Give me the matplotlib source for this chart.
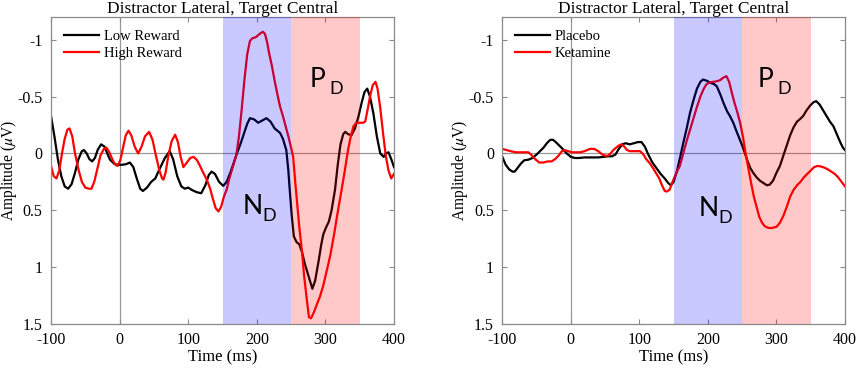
import matplotlib
matplotlib.use("Agg")
import matplotlib.pyplot as plt

plt.rcParams["font.family"] = ["Liberation Serif", "DejaVu Serif"]
plt.rcParams["mathtext.fontset"] = "stix"
plt.rcParams["axes.unicode_minus"] = False

TITULO = "Distractor Lateral, Target Central"

# painel esquerdo: recompensa
t_low = [-100, -95, -90, -85, -80, -75, -70, -65, -60, -55, -52, -48, -44, -40, -36, -32, -27, -22,
         -18, -14, -8, -3, 3, 9, 15, 20, 25, 30, 34, 40, 46, 52, 58, 66, 73, 78, 84, 90, 95, 100,
         105, 112, 119, 125, 130, 134, 139, 145, 151, 156, 162, 167, 171, 176, 181, 186, 190, 196,
         202, 208, 214, 220, 226, 234, 238, 243, 246, 248, 251, 254, 258, 262, 266, 270, 274, 278,
         281, 285, 290, 294, 297, 301, 305, 309, 314, 318, 322, 326, 329, 333, 338, 343, 348, 353,
         357, 361, 365, 370, 375, 380, 385, 388, 392, 396, 400]
v_low = [-0.33, -0.15, 0.05, 0.20, 0.29, 0.31, 0.27, 0.17, 0.05, -0.02, -0.03, 0.00, 0.05, 0.07,
         0.04, -0.03, -0.08, -0.06, 0.00, 0.055, 0.09, 0.10, 0.10, 0.095, 0.08, 0.12, 0.22, 0.31,
         0.33, 0.30, 0.25, 0.22, 0.14, 0.04, -0.02, 0.05, 0.20, 0.29, 0.31, 0.30, 0.32, 0.34, 0.35,
         0.28, 0.19, 0.16, 0.18, 0.25, 0.285, 0.25, 0.16, 0.07, 0.00, -0.08, -0.17, -0.26, -0.31,
         -0.30, -0.27, -0.29, -0.31, -0.28, -0.22, -0.18, -0.13, -0.03, 0.15, 0.32, 0.55, 0.73,
         0.78, 0.80, 0.87, 0.97, 1.05, 1.13, 1.19, 1.12, 0.95, 0.80, 0.71, 0.65, 0.60, 0.50, 0.32,
         0.10, -0.08, -0.17, -0.19, -0.17, -0.16, -0.22, -0.32, -0.45, -0.54, -0.57, -0.50, -0.35,
         -0.15, 0.00, 0.03, 0.00, -0.01, 0.05, 0.12]

t_high = [-100, -96, -92, -88, -84, -80, -76, -73, -69, -65, -60, -55, -50, -45, -41, -37, -33, -28,
          -23, -19, -15, -10, -6, -3, 1, 5, 9, 13, 17, 22, 27, 32, 37, 43, 48, 53, 58, 62, 64, 67,
          71, 76, 81, 85, 89, 93, 98, 103, 108, 113, 118, 122, 127, 132, 136, 140, 144, 148, 152,
          156, 160, 165, 170, 174, 178, 182, 186, 190, 194, 198, 202, 206, 209, 212, 215, 218, 222,
          226, 230, 234, 238, 242, 246, 250, 253, 256, 259, 262, 266, 269, 273, 276, 279, 283, 288,
          292, 297, 302, 307, 313, 317, 321, 327, 333, 337, 341, 345, 350, 355, 358, 362, 365, 369,
          373, 376, 380, 384, 388, 392, 396, 400]
v_high = [0.11, 0.20, 0.22, 0.15, 0.00, -0.13, -0.21, -0.22, -0.15, 0.00, 0.14, 0.25, 0.30, 0.31,
          0.31, 0.25, 0.15, 0.02, -0.04, -0.05, -0.01, 0.06, 0.10, 0.11, 0.06, -0.05, -0.16, -0.20,
          -0.16, -0.06, 0.00, -0.06, -0.15, -0.19, -0.12, 0.02, 0.15, 0.22, 0.23, 0.17, 0.02, -0.11,
          -0.165, -0.10, 0.03, 0.12, 0.08, 0.04, 0.03, 0.06, 0.12, 0.17, 0.23, 0.31, 0.40, 0.48,
          0.51, 0.47, 0.38, 0.32, 0.22, 0.12, 0.02, -0.15, -0.39, -0.65, -0.87, -0.99, -1.015,
          -1.02, -1.04, -1.06, -1.07, -1.05, -0.98, -0.88, -0.77, -0.64, -0.52, -0.41, -0.33, -0.24,
          -0.15, -0.05, 0.03, 0.25, 0.45, 0.65, 0.87, 1.08, 1.29, 1.44, 1.45, 1.40, 1.32, 1.26,
          1.16, 1.03, 0.90, 0.70, 0.55, 0.41, 0.20, -0.03, -0.15, -0.24, -0.27, -0.27, -0.27, -0.28,
          -0.40, -0.50, -0.60, -0.63, -0.57, -0.40, -0.18, 0.02, 0.15, 0.22, 0.18]

# painel direito: droga
t_plac = [-100, -95, -90, -85, -82, -78, -73, -68, -62, -56, -50, -45, -40, -35, -30, -26, -22, -17,
          -12, -6, 0, 6, 12, 20, 30, 40, 48, 55, 60, 65, 70, 75, 80, 86, 92, 98, 103, 108, 113, 119,
          125, 131, 137, 142, 146, 150, 155, 160, 164, 169, 174, 179, 184, 189, 193, 198, 204, 209,
          213, 218, 223, 228, 232, 237, 242, 246, 250, 254, 258, 262, 266, 271, 276, 281, 286, 290,
          295, 300, 305, 310, 315, 320, 325, 330, 334, 339, 344, 349, 354, 358, 363, 368, 373, 378,
          383, 388, 393, 397, 400]
v_plac = [0.03, 0.10, 0.14, 0.16, 0.16, 0.13, 0.09, 0.06, 0.055, 0.04, 0.01, -0.02, -0.05, -0.09,
          -0.12, -0.12, -0.10, -0.07, -0.04, 0.00, 0.03, 0.04, 0.04, 0.035, 0.035, 0.035, 0.03,
          0.025, 0.025, 0.01, -0.04, -0.08, -0.09, -0.08, -0.09, -0.10, -0.10, -0.06, 0.01, 0.08,
          0.13, 0.18, 0.22, 0.26, 0.28, 0.25, 0.15, 0.02, -0.09, -0.22, -0.36, -0.47, -0.57, -0.63,
          -0.65, -0.64, -0.62, -0.61, -0.59, -0.52, -0.44, -0.37, -0.33, -0.27, -0.19, -0.13, -0.07,
          0.00, 0.07, 0.13, 0.17, 0.21, 0.24, 0.26, 0.28, 0.275, 0.24, 0.17, 0.11, 0.02, -0.07,
          -0.16, -0.23, -0.28, -0.30, -0.33, -0.38, -0.42, -0.45, -0.46, -0.43, -0.38, -0.33, -0.28,
          -0.24, -0.17, -0.10, -0.05, -0.03]

t_ket = [-100, -94, -88, -80, -72, -66, -62, -58, -52, -46, -40, -34, -28, -23, -18, -13, -9, -4, 2,
         8, 14, 20, 28, 34, 40, 46, 50, 54, 58, 62, 66, 70, 74, 78, 82, 86, 92, 97, 101, 106, 110,
         115, 120, 125, 129, 133, 137, 140, 144, 149, 154, 159, 164, 169, 174, 179, 184, 189, 194,
         198, 203, 208, 213, 218, 222, 227, 231, 235, 239, 243, 247, 251, 255, 259, 263, 267, 271,
         275, 279, 283, 288, 294, 300, 305, 310, 315, 320, 325, 330, 335, 340, 345, 350, 355, 360,
         365, 370, 375, 380, 385, 390, 395, 400]
v_ket = [-0.04, -0.03, -0.02, -0.01, -0.01, -0.01, -0.01, 0.01, 0.05, 0.08, 0.08, 0.07, 0.07, 0.05,
         0.02, -0.02, -0.03, -0.02, -0.01, -0.01, -0.01, -0.02, -0.04, -0.04, -0.02, 0.01, 0.02,
         0.02, 0.00, -0.03, -0.05, -0.07, -0.08, -0.06, -0.03, -0.02, -0.02, -0.02, -0.02, 0.01,
         0.05, 0.085, 0.13, 0.18, 0.22, 0.28, 0.33, 0.335, 0.32, 0.24, 0.17, 0.11, 0.00, -0.11,
         -0.21, -0.31, -0.41, -0.50, -0.57, -0.61, -0.625, -0.63, -0.635, -0.645, -0.665, -0.68,
         -0.63, -0.53, -0.44, -0.36, -0.27, -0.15, 0.00, 0.13, 0.26, 0.38, 0.47, 0.56, 0.61, 0.64,
         0.655, 0.655, 0.645, 0.61, 0.55, 0.47, 0.38, 0.32, 0.28, 0.25, 0.21, 0.18, 0.15, 0.12,
         0.11, 0.115, 0.125, 0.14, 0.16, 0.18, 0.21, 0.25, 0.29]

NOMES_ESQ = ["Low Reward", "High Reward"]
NOMES_DIR = ["Placebo", "Ketamine"]
JANELA_ND = (150, 250)
JANELA_PD = (250, 350)
X_TICKS = [-100, 0, 100, 200, 300, 400]
Y_TICKS = [-1, -0.5, 0, 0.5, 1, 1.5]
Y_TICKLABELS = ["-1", "-0.5", "0", "0.5", "1", "1.5"]

CINZA = "#8a8a8a"
W, H = 858, 369


def painel(ax, series, nomes, pos_n, pos_p):
    ax.axhline(0, color="#9a9a9a", lw=0.9, zorder=1)
    ax.axvline(0, color="#9a9a9a", lw=0.9, zorder=1)
    for (t, v), cor, nome in zip(series, ["black", "red"], nomes):
        ax.plot(t, v, color=cor, lw=1.6, label=nome, zorder=2)
    ax.axvspan(*JANELA_ND, color="#0000ff", alpha=0.21, lw=0, zorder=3)
    ax.axvspan(*JANELA_PD, color="#ff0000", alpha=0.21, lw=0, zorder=3)
    ax.set_xlim(-100, 400); ax.set_ylim(1.5, -1.2)
    ax.set_xticks(X_TICKS); ax.set_yticks(Y_TICKS); ax.set_yticklabels(Y_TICKLABELS)
    ax.tick_params(direction="in", length=3.5, width=0.8, color=CINZA, labelsize=11.5,
                   top=True, right=True, pad=6)
    for s in ax.spines.values():
        s.set_color(CINZA); s.set_linewidth(0.9)
    ax.set_xlabel("Time (ms)", fontsize=12, labelpad=1)
    ax.set_ylabel(r"Amplitude ($\mu$V)", fontsize=11.2)
    ax.yaxis.set_label_coords(-0.093, 0.5)
    ax.set_title(TITULO, fontsize=12.5, pad=3)
    ax.legend(loc="upper left", frameon=False, fontsize=10.5, handlelength=2.4,
              borderaxespad=0.5, labelspacing=0.25, handletextpad=0.3)
    for (x, y), letra in [(pos_n, "N"), (pos_p, "P")]:
        ax.text(x, y, letra, family=["Lato", "DejaVu Sans"], fontsize=19, zorder=4)
        ax.annotate("D", (x, y), xytext=(14, -5), textcoords="offset points",
                    family=["Lato", "DejaVu Sans"], fontsize=13, zorder=4)


fig = plt.figure(figsize=(W / 100, H / 100), dpi=100)
ax1 = fig.add_axes([51 / W, 45 / H, 343 / W, 307 / H])
ax2 = fig.add_axes([502.3 / W, 45 / H, 342.7 / W, 307 / H])
painel(ax1, [(t_low, v_low), (t_high, v_high)], NOMES_ESQ, (180, 0.53), (277, -0.58))
painel(ax2, [(t_plac, v_plac), (t_ket, v_ket)], NOMES_DIR, (187, 0.55), (273, -0.58))
fig.savefig("out.png", dpi=100)
